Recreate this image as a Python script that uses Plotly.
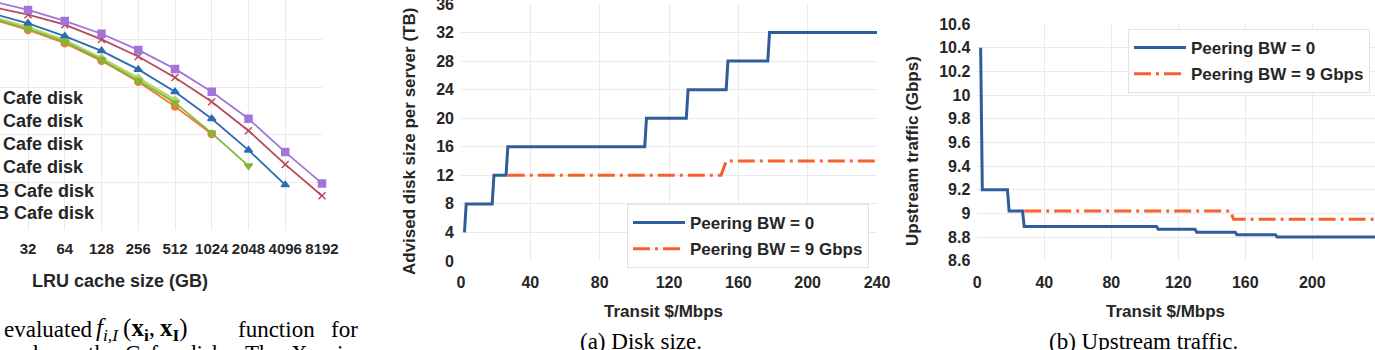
import plotly.graph_objects as go

W, H = 1375, 350

# ---------------- data ----------------
# Left (partial) panel: LRU cache curves
cache_sizes = ["16", "32", "64", "128", "256", "512", "1024", "2048", "4096", "8192"]
disk_labels = ["1TB Cafe disk", "2TB Cafe disk", "4TB Cafe disk", "8TB Cafe disk",
               "16TB Cafe disk", "32TB Cafe disk"]
curve_lightgreen = [0.448, 0.425, 0.398, 0.360, 0.318, 0.272]
curve_orange = [0.444, 0.421, 0.393, 0.356, 0.312, 0.260, 0.202]
curve_green = [0.446, 0.423, 0.396, 0.358, 0.314, 0.268, 0.204, 0.135]
curve_blue = [0.456, 0.435, 0.408, 0.377, 0.338, 0.291, 0.234, 0.168, 0.095]
curve_red = [0.470, 0.453, 0.432, 0.401, 0.365, 0.321, 0.270, 0.209, 0.138, 0.072]
curve_purple = [0.482, 0.463, 0.440, 0.413, 0.379, 0.339, 0.291, 0.234, 0.164, 0.098]

# Panel (a): advised disk size
disk_x_bw0 = [2, 3, 18, 19, 26, 27, 106, 107, 130, 131, 153, 154, 177, 178, 240]
disk_y_bw0 = [4, 8, 8, 12, 12, 16, 16, 20, 20, 24, 24, 28, 28, 32, 32]
disk_x_bw9 = [27, 150, 153, 240]
disk_y_bw9 = [12, 12, 14, 14]
disk_yticks = [0, 4, 8, 12, 16, 20, 24, 28, 32, 36]

# Panel (b): upstream traffic
up_x_bw0 = [2, 3, 18, 19, 27, 28, 107, 108, 130, 131, 154, 155, 178, 179, 240]
up_y_bw0 = [10.4, 9.2, 9.2, 9.02, 9.02, 8.89, 8.89, 8.865, 8.865, 8.84, 8.84, 8.82, 8.82, 8.80, 8.80]
up_x_bw9 = [28, 151, 153, 240]
up_y_bw9 = [9.02, 9.02, 8.95, 8.95]
up_yticks = [8.6, 8.8, 9.0, 9.2, 9.4, 9.6, 9.8, 10.0, 10.2, 10.4, 10.6]
up_yticktext = ["8.6", "8.8", "9", "9.2", "9.4", "9.6", "9.8", "10", "10.2", "10.4", "10.6"]
transit_ticks = [0, 40, 80, 120, 160, 200, 240]

series_names = ["Peering BW = 0", "Peering BW = 9 Gbps"]


def fx(px):
    return px / W


def fy(py):
    return 1 - py / H


BLUE = "#2F5D9A"
ORANGE = "#F8602E"
GRID = "#EAEAEA"
TXT = "#262626"
SANS = "Liberation Sans"
SERIF = "Liberation Serif"

fig = go.Figure()

# ---------- left partial panel ----------
left_specs = [
    (curve_lightgreen, "#B7D66E", "diamond", 4, disk_labels[0]),
    (curve_orange, "#F07A36", "circle", 1.8, disk_labels[1]),
    (curve_green, "#7DB83A", "triangle-down", 1.8, disk_labels[2]),
    (curve_blue, "#2D6BAE", "triangle-up", 1.8, disk_labels[3]),
    (curve_red, "#B94A5A", "x-thin", 1.8, disk_labels[4]),
    (curve_purple, "#A574DA", "square", 1.8, disk_labels[5]),
]
for vals, col, sym, lw, nm in left_specs:
    fig.add_trace(go.Scatter(
        x=cache_sizes[:len(vals)], y=vals, mode="lines+markers", name=nm,
        line=dict(color=col, width=lw),
        marker=dict(symbol=sym, size=7, color=col, line=dict(color=col, width=1.5)),
        xaxis="x", yaxis="y", showlegend=False, cliponaxis=False))

# ---------- panel (a) ----------
DASH = "17px,5px,3px,5px"
fig.add_trace(go.Scatter(x=disk_x_bw0, y=disk_y_bw0, mode="lines", name=series_names[0],
                         line=dict(color=BLUE, width=3), xaxis="x2", yaxis="y2",
                         legend="legend", legendgroup="a0"))
fig.add_trace(go.Scatter(x=disk_x_bw9, y=disk_y_bw9, mode="lines", name=series_names[1],
                         line=dict(color=ORANGE, width=3, dash=DASH),
                         xaxis="x2", yaxis="y2", legend="legend", legendgroup="a9"))

# ---------- panel (b) ----------
fig.add_trace(go.Scatter(x=up_x_bw0, y=up_y_bw0, mode="lines", name=series_names[0],
                         line=dict(color=BLUE, width=3), xaxis="x3", yaxis="y3",
                         legend="legend2", legendgroup="b0"))
fig.add_trace(go.Scatter(x=up_x_bw9, y=up_y_bw9, mode="lines", name=series_names[1],
                         line=dict(color=ORANGE, width=3, dash=DASH),
                         xaxis="x3", yaxis="y3", legend="legend2", legendgroup="b9"))

tickfont = dict(family=SANS, size=16, color=TXT, weight="bold")
legfont = dict(family=SANS, size=17, color=TXT, weight="bold")

fig.update_layout(
    width=W, height=H, margin=dict(l=0, r=0, t=0, b=0, pad=0, autoexpand=False),
    paper_bgcolor="white", plot_bgcolor="white",
    showlegend=True,
    # left partial axis
    xaxis=dict(domain=[0, fx(322)], type="category", range=[0.238, 9], automargin=False,
               showgrid=True, gridcolor=GRID, gridwidth=1, ticks="",
               tickfont=dict(family=SANS, size=15, color=TXT, weight="bold"),
               ticklabelstandoff=8, showline=False, zeroline=False, fixedrange=True),
    yaxis=dict(domain=[fy(230), 1], range=[0, 0.484], dtick=0.1, showticklabels=False,
               automargin=False, showgrid=True, gridcolor=GRID, zeroline=False, showline=False),
    # (a)
    xaxis2=dict(domain=[fx(461), fx(877)], range=[0, 240], tickvals=transit_ticks,
                automargin=False, showgrid=True, gridcolor=GRID, ticks="", tickfont=tickfont,
                ticklabelstandoff=10, zeroline=False, showline=False, anchor="y2"),
    yaxis2=dict(domain=[fy(261), fy(4)], range=[0, 36], tickvals=disk_yticks,
                automargin=False, showgrid=True, gridcolor=GRID, ticks="", tickfont=tickfont,
                ticklabelstandoff=6, zeroline=False, showline=False, anchor="x2",
                ticklabeloverflow="allow"),
    # (b)
    xaxis3=dict(domain=[fx(977.3), 1], range=[0, (W - 977.3) / 67 * 40], tickvals=transit_ticks,
                automargin=False, showgrid=True, gridcolor=GRID, ticks="", tickfont=tickfont,
                ticklabelstandoff=10, zeroline=False, showline=False, anchor="y3"),
    yaxis3=dict(domain=[fy(260.7), fy(24)], range=[8.6, 10.6], tickvals=up_yticks,
                ticktext=up_yticktext, automargin=False, showgrid=True, gridcolor=GRID,
                ticks="", tickfont=tickfont, ticklabelstandoff=6, zeroline=False,
                showline=False, anchor="x3"),
    legend=dict(x=fx(627), y=fy(204), xanchor="left", yanchor="top",
                bgcolor="white", bordercolor="#E2E2E2", borderwidth=1, font=legfont,
                traceorder="grouped", tracegroupgap=1, itemwidth=52),
    legend2=dict(x=fx(1128), y=fy(29), xanchor="left", yanchor="top",
                 bgcolor="white", bordercolor="#E2E2E2", borderwidth=1, font=legfont,
                 traceorder="grouped", tracegroupgap=1, itemwidth=52),
)

ann = []
# left legend texts (symbols fall off the left edge of the page)
legend_right_px = [86, 86, 86, 86, 96.7, 96.7]
legend_row_y = [98.3, 120.7, 144, 166.7, 190.7, 213.3]
for lbl, rx, ry in zip(disk_labels, legend_right_px, legend_row_y):
    ann.append(dict(text=lbl, x=fx(rx), y=fy(ry), xanchor="right", yanchor="middle",
                    font=dict(family=SANS, size=18, color=TXT, weight="bold")))
ann.append(dict(text="LRU cache size (GB)", x=fx(120), y=fy(281), xanchor="center",
                yanchor="middle", font=dict(family=SANS, size=18, color=TXT, weight="bold")))
# axis titles
ann.append(dict(text="Advised disk size per server (TB)", x=fx(410), y=fy(141), textangle=-90,
                xanchor="center", yanchor="middle",
                font=dict(family=SANS, size=17, color=TXT, weight="bold")))
ann.append(dict(text="Transit $/Mbps", x=fx(663), y=fy(311), xanchor="center", yanchor="middle",
                font=dict(family=SANS, size=17, color=TXT, weight="bold")))
ann.append(dict(text="Upstream traffic (Gbps)", x=fx(912), y=fy(151), textangle=-90,
                xanchor="center", yanchor="middle",
                font=dict(family=SANS, size=17, color=TXT, weight="bold")))
ann.append(dict(text="Transit $/Mbps", x=fx(1165), y=fy(311), xanchor="center", yanchor="middle",
                font=dict(family=SANS, size=17, color=TXT, weight="bold")))
# captions
ann.append(dict(text="(a) Disk size.", x=fx(641), y=fy(341), xanchor="center", yanchor="middle",
                font=dict(family=SERIF, size=23, color="black")))
ann.append(dict(text="(b) Upstream traffic.", x=fx(1143), y=fy(341), xanchor="center",
                yanchor="middle", font=dict(family=SERIF, size=23, color="black")))
# body text of the page (justified line + cut-off next line)
THIN = "\u2009"
body_line1 = [("evaluated", 2, 23),
              ("<i>f</i><sub><i>i,I</i></sub>" + THIN + "(<b>x</b><sub><b>i</b></sub>,"
               + THIN + "<b>x</b><sub><b>I</b></sub>)", 94, 25),
              ("function", 236, 23), ("for", 329, 23)]
for txt, lx, fs in body_line1:
    ann.append(dict(text=txt, x=fx(lx), y=fy(329), xanchor="left", yanchor="middle",
                    font=dict(family=SERIF, size=fs, color="black")))
body_line2 = [("and", 3), ("as", 48), ("the", 86), ("Cafe", 123), ("disk.", 183),
              ("The", 243), ("X-axis", 289)]
for txt, lx in body_line2:
    ann.append(dict(text=txt, x=fx(lx), y=fy(354), xanchor="left", yanchor="middle",
                    font=dict(family=SERIF, size=23, color="black")))
for a in ann:
    a.update(xref="paper", yref="paper", showarrow=False)
fig.update_layout(annotations=ann)

fig.write_html("out.html")
